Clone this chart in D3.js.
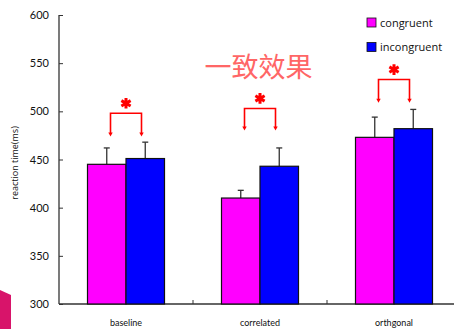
<!DOCTYPE html>
<html>
<head>
<meta charset="utf-8">
<script src="https://cdn.jsdelivr.net/npm/d3@7"></script>
<style>
  html, body { margin: 0; padding: 0; background: #fff; }
  svg { display: block; }
</style>
</head>
<body>
<svg id="chart" width="454" height="329"></svg>
<script>
// Reaction times by condition
const categories = ["baseline", "correlated", "orthgonal"];
const seriesNames = ["congruent", "incongruent"];
const congruent = [445, 410, 473];
const incongruent = [451, 443, 482];
const congruentErr = [17, 8, 21];
const incongruentErr = [17, 19, 20];
// significance brackets: bar level and arrow-tip level (ms)
const bracketTop = [498, 503, 533];
const bracketTip = [474, 480, 509];
const yTicks = [300, 350, 400, 450, 500, 550, 600];
const colors = ["#ff00ff", "#0000ff"];
const title = "一致效果";

const svg = d3.select("#chart");

// decorative corner shape
svg.append("path")
  .attr("d", "M0,290 L11,295 L11,329 L0,329 Z")
  .attr("fill", "#d8146a");

const x = d3.scaleBand().domain(categories).range([59, 461]).paddingInner(0).paddingOuter(0);
const y = d3.scaleLinear().domain([300, 600]).range([304, 15]);
const barW = 38.5;

// y axis
const yAxis = svg.append("g").attr("transform", "translate(59,0)")
  .call(d3.axisRight(y).tickValues(yTicks).tickSize(4).tickFormat(d3.format("d")));
yAxis.select(".domain").attr("stroke", "#333").attr("stroke-width", 1.3).attr("d", `M0,${y(600)}V${y(300)}`);
yAxis.selectAll(".tick line").attr("stroke", "#333");
yAxis.selectAll(".tick text")
  .attr("x", -10).attr("text-anchor", "end")
  .attr("font-family", "Lato, 'Open Sans', sans-serif").attr("font-size", 11).attr("fill", "#111");

// x axis
const xAxis = svg.append("g").attr("transform", `translate(0,${y(300)})`);
xAxis.append("line").attr("x1", 59).attr("x2", 461).attr("stroke", "#333").attr("stroke-width", 1.3);
xAxis.selectAll("line.sep").data(categories.slice(1)).join("line")
  .attr("class", "sep")
  .attr("x1", d => x(d)).attr("x2", d => x(d))
  .attr("y1", 0).attr("y2", -4).attr("stroke", "#333");
xAxis.selectAll("text").data(categories).join("text")
  .attr("x", d => x(d) + x.bandwidth() / 2)
  .attr("y", 22)
  .attr("text-anchor", "middle")
  .attr("font-family", "Lato, 'Open Sans', sans-serif").attr("font-size", 9).attr("fill", "#111")
  .text(d => d);

// y axis title
svg.append("text")
  .attr("transform", "translate(18,163) rotate(-90)")
  .attr("text-anchor", "middle")
  .attr("font-family", "'Open Sans', sans-serif").attr("font-size", 9).attr("fill", "#111")
  .text("reaction time(ms)");

// bars
const rows = categories.map((c, i) => ({c, vals: [congruent[i], incongruent[i]], errs: [congruentErr[i], incongruentErr[i]]}));
const groups = svg.selectAll("g.grp").data(rows).join("g").attr("class", "grp");
groups.each(function(r) {
  const g = d3.select(this);
  const cx = x(r.c) + x.bandwidth() / 2;
  r.vals.forEach((v, k) => {
    const bx = cx - barW + k * barW;
    // error bar
    g.append("line")
      .attr("x1", bx + barW / 2).attr("x2", bx + barW / 2)
      .attr("y1", y(v)).attr("y2", y(v + r.errs[k]))
      .attr("stroke", "#333").attr("stroke-width", 1.3);
    g.append("line")
      .attr("x1", bx + barW / 2 - 3).attr("x2", bx + barW / 2 + 3)
      .attr("y1", y(v + r.errs[k])).attr("y2", y(v + r.errs[k]))
      .attr("stroke", "#333").attr("stroke-width", 1.3);
    g.append("rect")
      .attr("x", bx).attr("y", y(v))
      .attr("width", barW).attr("height", y(300) - y(v))
      .attr("fill", colors[k]).attr("stroke", "#111").attr("stroke-width", 1.2);
  });
});

// significance brackets
const star = d3.symbol().type(d3.symbolAsterisk).size(80);
categories.forEach((c, i) => {
  const cx = x(c) + x.bandwidth() / 2;
  const x0 = cx - 15.5, x1 = cx + 15.5;
  const top = y(bracketTop[i]), tip = y(bracketTip[i]);
  svg.append("path")
    .attr("d", `M${x0},${tip - 3}V${top}H${x1}V${tip - 3}`)
    .attr("fill", "none").attr("stroke", "#ff0000").attr("stroke-width", 1.6);
  [x0, x1].forEach(ax => {
    svg.append("path")
      .attr("d", `M${ax - 2.2},${tip - 4}L${ax + 2.2},${tip - 4}L${ax},${tip}Z`)
      .attr("fill", "#ff0000");
  });
  svg.append("path")
    .attr("d", star())
    .attr("transform", `translate(${cx},${top - 10})`)
    .attr("stroke", "#ff0000").attr("stroke-width", 3).attr("fill", "none");
});

// legend
const legend = svg.append("g").attr("transform", "translate(367,18)");
seriesNames.forEach((s, k) => {
  legend.append("rect").attr("x", 0).attr("y", k * 24.5).attr("width", 9).attr("height", 9)
    .attr("fill", colors[k]).attr("stroke", "#111").attr("stroke-width", 0.8);
  legend.append("text").attr("x", 13).attr("y", k * 24.5 + 8.5)
    .attr("font-family", "'Open Sans', sans-serif").attr("font-size", 11).attr("fill", "#111")
    .text(s);
});

// annotation
svg.append("text")
  .attr("x", 258.5).attr("y", 77)
  .attr("text-anchor", "middle")
  .attr("font-family", "'Noto Sans CJK SC', sans-serif").attr("font-size", 27)
  .attr("fill", "#ff6666")
  .text(title);
</script>
</body>
</html>
